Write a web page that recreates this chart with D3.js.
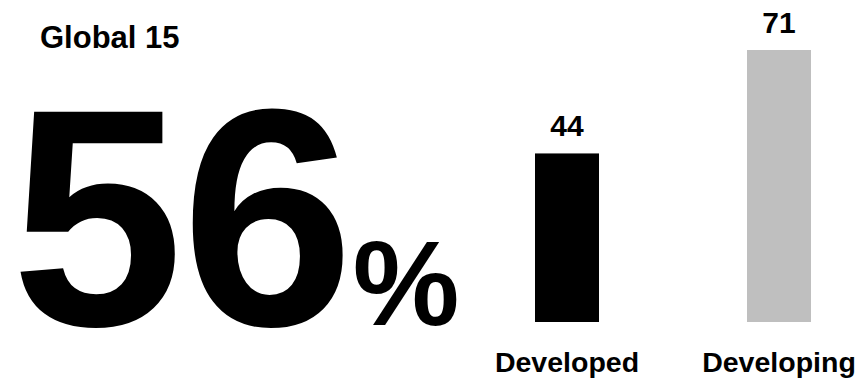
<!DOCTYPE html>
<html>
<head>
<meta charset="utf-8">
<script src="https://cdn.jsdelivr.net/npm/d3@7"></script>
<style>
  html, body { margin: 0; padding: 0; background: #fff; }
  svg { display: block; }
  text { font-family: "Liberation Sans", Arial, Helvetica, sans-serif; font-weight: bold; fill: #000; }
</style>
</head>
<body>
<script>
// Survey result: headline share plus the split by economy group
const title = "Global 15";
const headlineValue = 56;
const categories = ["Developed", "Developing"];
const values = [44, 71];
const barColors = ["#000000", "#bfbfbf"];

const width = 861, height = 379;

const svg = d3.select("body").append("svg")
  .attr("width", width)
  .attr("height", height);

// Title
svg.append("text")
  .attr("x", 40)
  .attr("y", 48)
  .attr("font-size", 31)
  .text(title);

// Headline figure
const headline = svg.append("text")
  .attr("x", 11)
  .attr("y", 325);
headline.append("tspan")
  .attr("font-size", 310)
  .attr("letter-spacing", -2)
  .text(String(headlineValue));
headline.append("tspan")
  .attr("font-size", 120)
  .attr("dx", 1)
  .text("%");

// Bar chart
const x = d3.scaleBand()
  .domain(categories)
  .range([535, 811])
  .paddingInner(0.6981)
  .paddingOuter(0);

const y = d3.scaleLinear()
  .domain([0, 71])
  .range([322, 50]);

const data = categories.map((c, i) => ({ category: c, value: values[i], color: barColors[i] }));

svg.selectAll("rect.bar")
  .data(data)
  .join("rect")
  .attr("class", "bar")
  .attr("x", d => x(d.category))
  .attr("y", d => y(d.value))
  .attr("width", x.bandwidth())
  .attr("height", d => y(0) - y(d.value))
  .attr("fill", d => d.color);

// Value labels above the bars
svg.selectAll("text.value")
  .data(data)
  .join("text")
  .attr("class", "value")
  .attr("x", d => x(d.category) + x.bandwidth() / 2)
  .attr("y", d => y(d.value) - 17)
  .attr("text-anchor", "middle")
  .attr("font-size", 30)
  .text(d => d.value);

// Category labels below the bars
svg.selectAll("text.category")
  .data(data)
  .join("text")
  .attr("class", "category")
  .attr("x", d => x(d.category) + x.bandwidth() / 2)
  .attr("y", 372)
  .attr("text-anchor", "middle")
  .attr("font-size", 28.5)
  .text(d => d.category);
</script>
</body>
</html>
